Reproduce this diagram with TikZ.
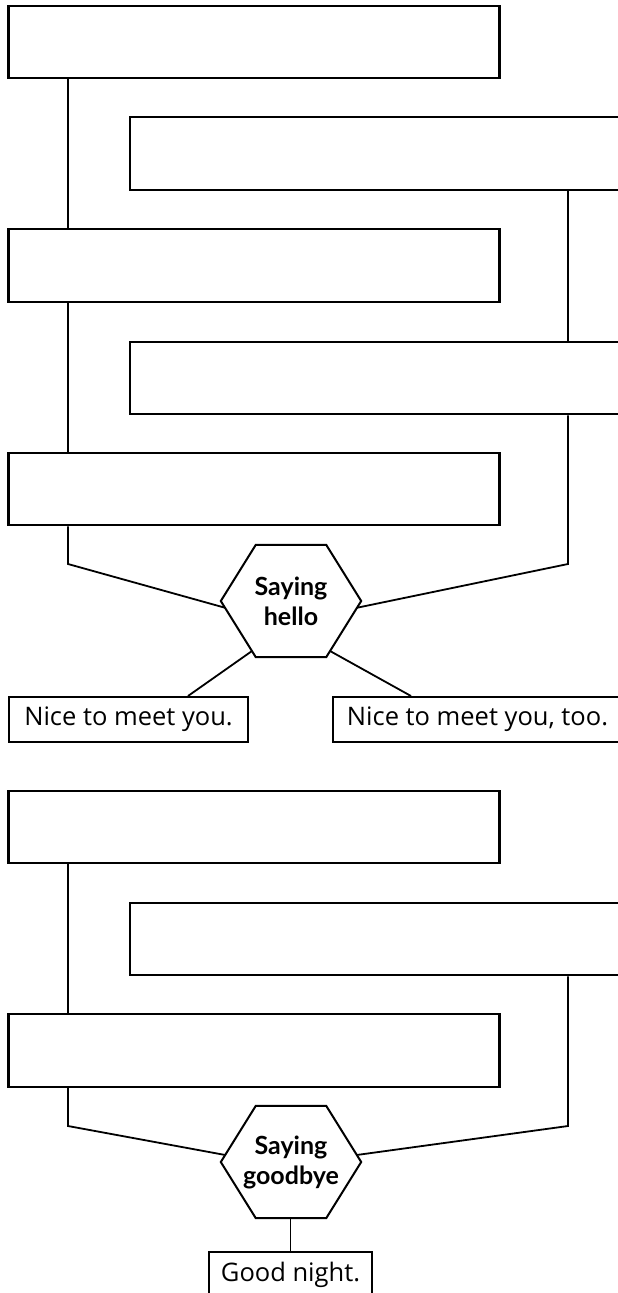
\documentclass[tikz,border=0pt]{standalone}
\usepackage{fontspec}
\setmainfont{Lato}
\newfontfamily\boxfont{Open Sans}
\usetikzlibrary{calc}
\tikzset{
  bigbox/.style={draw, line width=2.1pt, inner sep=0pt, minimum height=72.5pt},
  leftbox/.style={bigbox, minimum width=491pt},
  rightbox/.style={bigbox, minimum width=520pt},
  txtbox/.style={draw, line width=2pt, inner sep=0pt, minimum height=45pt, font=\boxfont\fontsize{25.5}{30}\selectfont},
  hexcore/.style={inner sep=0pt, minimum width=140pt, minimum height=112pt, align=center, font=\bfseries\fontsize{25}{30}\selectfont},
  hexline/.style={line width=2pt, line join=miter},
  conn/.style={line width=1.8pt, line join=miter}
}
\begin{document}
\begin{tikzpicture}[x=1pt,y=-1pt]
\useasboundingbox (0,0) rectangle (618,1293);
\clip (0,0) rectangle (618,1293);
\coordinate (L) at (68,0);
\coordinate (R) at (568,0);
% upper part
\node[leftbox]  (b1) at (254,42) {};
\node[rightbox] (b2) at (390,153.5) {};
\node[leftbox]  (b3) at (254,265.5) {};
\node[rightbox] (b4) at (390,378) {};
\node[leftbox]  (b5) at (254,489) {};
\node[hexcore] (h1) at (291,601) {Saying\\hello};
\coordinate (h1tl) at ($(h1.north west)+(35,0)$);
\coordinate (h1tr) at ($(h1.north east)+(-35,0)$);
\coordinate (h1bl) at ($(h1.south west)+(35,0)$);
\coordinate (h1br) at ($(h1.south east)+(-35,0)$);
\draw[hexline] (h1.west) -- (h1tl) -- (h1tr) -- (h1.east) -- (h1br) -- (h1bl) -- cycle;
\node[txtbox, minimum width=239pt] (t1) at (128.5,719.5) {Nice to meet you.};
\node[txtbox, minimum width=289pt] (t2) at (477.5,719.5) {Nice to meet you, too.};
\coordinate (c1) at (68,564);
\coordinate (c2) at (568,564);
\draw[conn] (b1.south -| L) -- (b3.north -| L);
\draw[conn] (b3.south -| L) -- (b5.north -| L);
\draw[conn] (b2.south -| R) -- (b4.north -| R);
\draw[conn] (b5.south -| L) -- (c1) -- ($(h1.west)!0.12!(h1bl)$);
\draw[conn] (b4.south -| R) -- (c2) -- ($(h1.east)!0.12!(h1br)$);
\draw[conn] ($(h1.west)!0.89!(h1bl)$) -- (t1.north -| 188,0);
\draw[conn] ($(h1.east)!0.89!(h1br)$) -- (t2.north -| 411,0);
% lower part
\node[leftbox]  (b6) at (254,827) {};
\node[rightbox] (b7) at (390,939) {};
\node[leftbox]  (b8) at (254,1050.5) {};
\node[hexcore] (h2) at (291,1162) {Saying\\goodbye};
\coordinate (h2tl) at ($(h2.north west)+(35,0)$);
\coordinate (h2tr) at ($(h2.north east)+(-35,0)$);
\coordinate (h2bl) at ($(h2.south west)+(35,0)$);
\coordinate (h2br) at ($(h2.south east)+(-35,0)$);
\draw[hexline] (h2.west) -- (h2tl) -- (h2tr) -- (h2.east) -- (h2br) -- (h2bl) -- cycle;
\node[txtbox, minimum width=163pt] (t3) at (290.5,1274.5) {Good night.};
\coordinate (c3) at (68,1126);
\coordinate (c4) at (568,1126);
\draw[conn] (b6.south -| L) -- (b8.north -| L);
\draw[conn] (b7.south -| R) -- (c4) -- ($(h2.east)!0.125!(h2tr)$);
\draw[conn] (b8.south -| L) -- (c3) -- ($(h2.west)!0.125!(h2tl)$);
\draw[conn] (h2.south -| t3.north) -- (t3.north);
\end{tikzpicture}
\end{document}
